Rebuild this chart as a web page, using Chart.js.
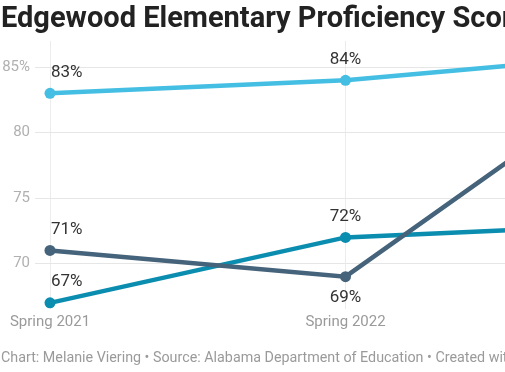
<!DOCTYPE html>
<html>
<head>
<meta charset="utf-8">
<script src="https://cdn.jsdelivr.net/npm/chart.js@4.4.1/dist/chart.umd.min.js"></script>
<style>
  html, body { margin: 0; padding: 0; background: #fff; overflow: hidden; width: 505px; height: 372px; }
  #wrap { position: absolute; left: 0; top: 0; width: 700px; height: 372px; }
  #title { position: absolute; left: 1px; top: 0px; white-space: nowrap; font-family: Roboto, sans-serif; font-weight: 700; font-size: 29px; color: #222; }
  #footer { position: absolute; left: 1px; top: 349px; white-space: nowrap; font-family: Roboto, sans-serif; font-size: 14.3px; color: #9a9a9a; }
  #cv { position: absolute; left: 0; top: 0; }
</style>
</head>
<body>
<div id="wrap">
  <canvas id="cv" width="700" height="372"></canvas>
  <div id="title">Edgewood Elementary Proficiency Scores</div>
  <div id="footer">Chart: Melanie Viering • Source: Alabama Department of Education • Created with Datawrapper</div>
</div>
<script>
const categories = ['Spring 2021', 'Spring 2022', 'Spring 2023'];
const seriesA = [83, 84, 86];   // light blue
const seriesB = [71, 69, 85];   // slate
const seriesC = [67, 72, 73];   // teal
const yTicks = [70, 75, 80, 85];

const labelPos = {
  0: ['above', 'above', 'above'],
  1: ['above', 'below', 'above'],
  2: ['above', 'above', 'below']
};
const labelAlign = ['left', 'center', 'center'];

const dataLabels = {
  id: 'dataLabels',
  afterDatasetsDraw(chart) {
    const ctx = chart.ctx;
    ctx.save();
    ctx.font = '17px Roboto, sans-serif';
    ctx.fillStyle = '#333';
    ctx.textBaseline = 'middle';
    chart.data.datasets.forEach((ds, di) => {
      const meta = chart.getDatasetMeta(di);
      meta.data.forEach((pt, i) => {
        const pos = labelPos[di][i];
        const al = labelAlign[i];
        ctx.textAlign = al;
        const x = al === 'left' ? pt.x + 1 : pt.x;
        const y = pos === 'above' ? pt.y - 21 : pt.y + 21;
        ctx.fillText(ds.data[i] + '%', x, y);
      });
    });
    ctx.restore();
  }
};

const mk = (data, color) => ({
  data,
  borderColor: color,
  backgroundColor: color,
  borderWidth: 4.5,
  pointRadius: 5.5,
  pointHoverRadius: 5.5,
  pointBorderWidth: 0,
  tension: 0,
  clip: false
});

new Chart(document.getElementById('cv'), {
  type: 'line',
  data: {
    labels: categories,
    datasets: [
      mk(seriesA, '#44bee3'),
      mk(seriesB, '#45637a'),
      mk(seriesC, '#0b8db0')
    ]
  },
  options: {
    responsive: false,
    animation: false,
    events: [],
    layout: { padding: { left: 0, right: 59, top: 41, bottom: 36.6 } },
    plugins: { legend: { display: false }, tooltip: { enabled: false } },
    scales: {
      x: {
        type: 'category',
        offset: false,
        grid: { color: '#ececec', lineWidth: 1, drawTicks: false },
        border: { display: false },
        ticks: { color: '#9a9a9a', font: { family: 'Roboto, sans-serif', size: 15 }, padding: 4, maxRotation: 0, autoSkip: false }
      },
      y: {
        min: 66.5,
        max: 87,
        afterBuildTicks(scale) { scale.ticks = yTicks.map(v => ({ value: v })); },
        afterFit(scale) { scale.width = 50; },
        grid: { color: '#e6e6e6', lineWidth: 1, tickLength: 15, drawTicks: true },
        border: { display: false },
        ticks: {
          color: '#b0b0b0',
          font: { family: 'Roboto, sans-serif', size: 15 },
          padding: 5,
          callback: (v) => v === 85 ? v + '%' : v
        }
      }
    }
  },
  plugins: [dataLabels]
});
</script>
</body>
</html>
